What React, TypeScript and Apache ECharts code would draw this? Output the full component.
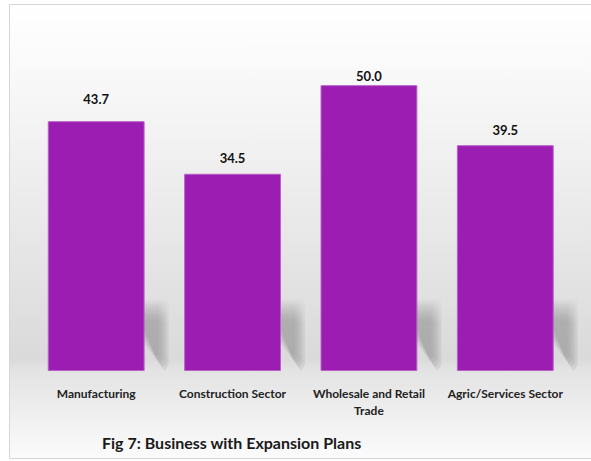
import React, { useEffect, useRef } from "react";
import * as echarts from "echarts";

const categories = [
  "Manufacturing",
  "Construction Sector",
  "Wholesale and Retail\nTrade",
  "Agric/Services Sector",
];
const values = [43.7, 34.5, 50.0, 39.5];
const labelDistances = [16, 9, 3, 9];
const titleText = "Fig 7: Business with Expansion Plans";

export default function App() {
  const ref = useRef<HTMLDivElement>(null);
  useEffect(() => {
    document.body.style.margin = "0";
    const chart = echarts.init(ref.current!, null, { renderer: "svg" });
    const font = "Lato, 'Noto Sans', sans-serif";
    chart.setOption({
      animation: false,
      backgroundColor: "#ffffff",
      title: {
        text: titleText,
        left: 97,
        top: 429,
        textStyle: { fontFamily: font, fontSize: 16, fontWeight: "bold", color: "#1a1a1a" },
      },
      graphic: [
        {
          type: "rect",
          z: -10,
          silent: true,
          shape: { x: 9.5, y: 4.5, width: 590, height: 454 },
          style: {
            fill: new echarts.graphic.LinearGradient(0, 0, 0, 1, [
              { offset: 0, color: "#ffffff" },
              { offset: 0.15, color: "#f9f9f9" },
              { offset: 0.78, color: "#dadada" },
              { offset: 0.805, color: "#e3e3e3" },
              { offset: 1, color: "#fbfbfb" },
            ]),
            stroke: "#d6d6d6",
            lineWidth: 1,
          },
        },
      ],
      grid: { left: 28, right: 17.5, top: 28, bottom: 90 },
      xAxis: {
        type: "category",
        data: categories,
        axisLine: { show: false },
        axisTick: { show: false },
        axisLabel: {
          interval: 0,
          margin: 14,
          fontFamily: font,
          fontSize: 12,
          fontWeight: "bold",
          color: "#222",
          lineHeight: 17,
        },
      },
      yAxis: { type: "value", min: 0, max: 60, show: false, splitLine: { show: false } },
      series: [
        {
          type: "custom",
          z: 1,
          silent: true,
          data: values.map((v, i) => [i, v]),
          renderItem: (params: any, api: any) => {
            const [cx, bottom] = api.coord([api.value(0), 0]);
            const hw = (api.size([1, 0])[0] * 0.71) / 2;
            const L = cx - hw + 4;
            const R = cx + hw;
            const top = bottom - 74;
            const layers: any[] = [];
            for (let k = 0; k < 5; k++) {
              const d = k * 2.5;
              layers.push({
                type: "polygon",
                shape: {
                  points: [
                    [L, top + d * 0.5],
                    [R + 24 - d, top + d * 0.5],
                    [R + 24 - d, bottom - 6 - d],
                    [R + 20 - d, bottom - 1.5 * d],
                    [R - 2, bottom - 30 - 1.7 * d],
                    [L, bottom - 30 - 1.7 * d],
                  ],
                },
                style: {
                  fill: new echarts.graphic.LinearGradient(0, 0, 0, 1, [
                    { offset: 0, color: "rgba(150,150,150,0)" },
                    { offset: 0.35, color: "rgba(150,150,150,0.2)" },
                    { offset: 1, color: "rgba(150,150,150,0.2)" },
                  ]),
                },
              });
            }
            return { type: "group", children: layers };
          },
        },
        {
          type: "bar",
          z: 3,
          barWidth: "71%",
          data: values.map((v, i) => ({
            value: v,
            label: { distance: labelDistances[i] },
          })),
          itemStyle: { color: "#9b1db1", borderColor: "#b860c8", borderWidth: 1 },
          label: {
            show: true,
            position: "top",
            formatter: (p: any) => p.value.toFixed(1),
            fontFamily: font,
            fontSize: 13,
            fontWeight: "bold",
            color: "#111",
          },
        },
      ],
    });
    return () => chart.dispose();
  }, []);
  return <div ref={ref} style={{ width: 591, height: 461 }} />;
}
